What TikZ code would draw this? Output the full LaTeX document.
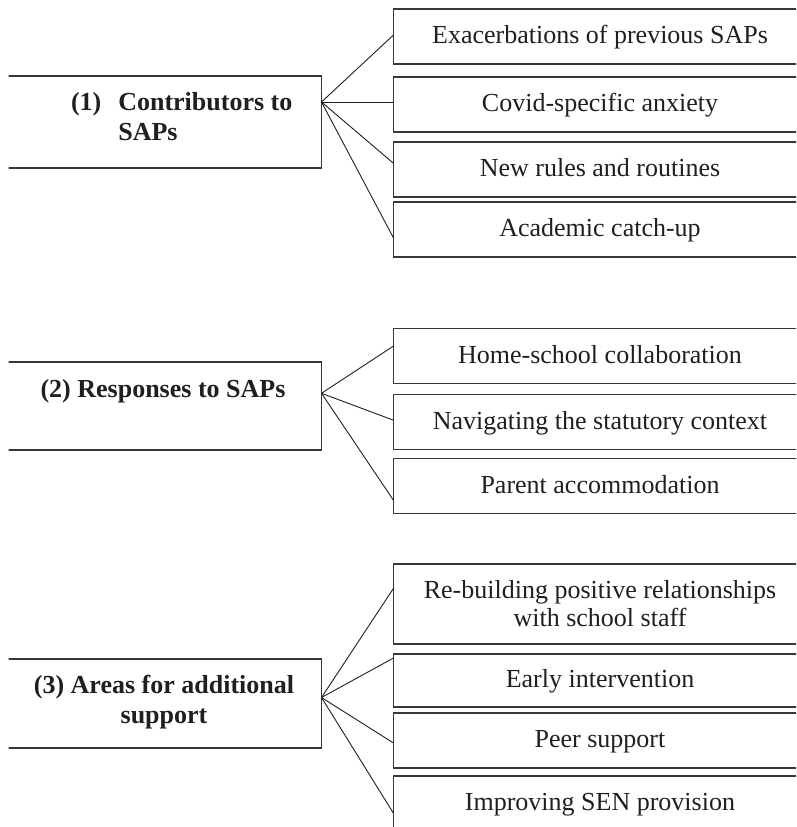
\documentclass[tikz,border=0pt]{standalone}
\usepackage{fontspec}
\setmainfont{Liberation Serif}
\usetikzlibrary{calc}
\definecolor{boxline}{gray}{0.22}
\definecolor{txt}{gray}{0.12}
\begin{document}
\begin{tikzpicture}[x=1pt,y=-1pt,
  rbox/.style={draw=boxline, line width=1.2pt, outer sep=0pt, minimum width=413pt,
    minimum height=55pt, inner sep=0pt, text height=18pt, text depth=3.6pt,
    font=\fontsize{26}{28.3}\selectfont, text=txt},
  lbox/.style={draw=boxline, line width=1.2pt, outer sep=0pt, inner sep=0pt,
    minimum width=316.5pt},
  ltext/.style={inner sep=0pt, outer sep=0pt, font=\bfseries\fontsize{26}{28.3}\selectfont, text=txt},
  conn/.style={draw=black!88, line width=0.9pt}]
\useasboundingbox (0,0) rectangle (796,827);
\clip (8.5,0) rectangle (796,827);

% ---- group 1
\node[lbox, minimum height=92pt] (L1) at (163.25,122) {};
\node[ltext, anchor=base west] (L1t) at (71,110.7)
  {\vtop{\baselineskip=29.5pt\lineskiplimit=-100pt
   \hbox{\makebox[47.3pt][l]{(1)}Contributors to}\hbox{\hspace*{47.3pt}SAPs}}};
\node[rbox] (A) at (600,36.5) {Exacerbations of previous SAPs};
\node[rbox] (B) at (600,104.5) {Covid-specific anxiety};
\node[rbox] (C) at (600,169.5) {New rules and routines};
\node[rbox] (D) at (600,229.5) {Academic catch-up};
\coordinate (J1) at ($(L1.north east)+(0,26)$);
\draw[conn] (J1) -- ($(A.north west)+(0,26)$);
\draw[conn] (J1) -- ($(B.north west)+(0,25)$);
\draw[conn] (J1) -- ($(C.north west)+(0,21.3)$);
\draw[conn] (J1) -- ($(D.north west)+(0,36)$);

% ---- group 2
\node[lbox, minimum height=88pt] (L2) at (163.25,406) {};
\node[ltext, anchor=base] (L2t) at (163,397) {(2) Responses to SAPs};
\node[rbox] (E) at (600,355.8) {Home-school collaboration};
\node[rbox] (F) at (600,422) {Navigating the statutory context};
\node[rbox] (G) at (600,485.8) {Parent accommodation};
\coordinate (J2) at ($(L2.north east)+(0,31.3)$);
\draw[conn] (J2) -- ($(E.north west)+(0,17.7)$);
\draw[conn] (J2) -- ($(F.north west)+(0,25.7)$);
\draw[conn] (J2) -- ($(G.north west)+(0,42)$);

% ---- group 3
\node[lbox, minimum height=89pt] (L3) at (163.25,703.5) {};
\node[ltext, anchor=base] (L3t) at (164,693)
  {\vtop{\baselineskip=30pt\lineskiplimit=-100pt
   \hbox to 280pt{\hss(3) Areas for additional\hss}\hbox to 280pt{\hss support\hss}}};
\node[rbox, minimum height=80pt, text depth=28.8pt] (H) at (600,604)
  {\vtop{\baselineskip=28.3pt\lineskiplimit=-100pt
   \hbox to 400pt{\hss Re-building positive relationships\hss}\hbox to 400pt{\hss with school staff\hss}}};
\node[rbox, minimum height=53pt] (I) at (600,680.5) {Early intervention};
\node[rbox] (J) at (600,740.5) {Peer support};
\node[rbox] (K) at (600,803.5) {Improving SEN provision};
\coordinate (J3) at ($(L3.north east)+(0,38.5)$);
\draw[conn] (J3) -- ($(H.north west)+(0,24.3)$);
\draw[conn] (J3) -- ($(I.north west)+(0,4)$);
\draw[conn] (J3) -- ($(J.north west)+(0,30)$);
\draw[conn] (J3) -- ($(K.north west)+(0,37.3)$);
\end{tikzpicture}
\end{document}
